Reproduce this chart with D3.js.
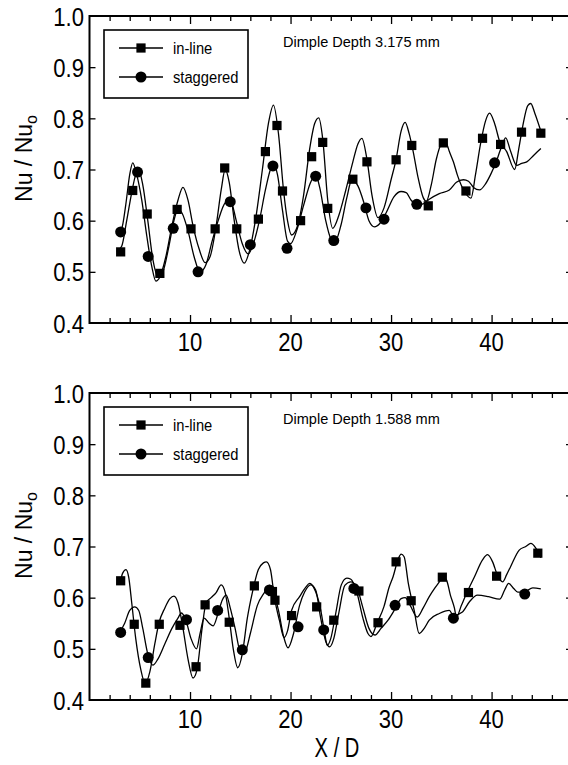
<!DOCTYPE html>
<html>
<head>
<meta charset="utf-8">
<script src="https://cdn.jsdelivr.net/npm/d3@7/dist/d3.min.js"></script>
<style>
  body { margin: 0; background: #fff; }
  svg { display: block; font-family: "Liberation Sans", Arial, sans-serif; }
  .axis path { display: none; }
  .axis line { stroke: #000; stroke-width: 1.3; }
  .frame { fill: none; stroke: #000; stroke-width: 2; }
  .trace { fill: none; stroke: #000; stroke-width: 1.3; }
  .legend-box { fill: #fff; stroke: #000; stroke-width: 1.6; }
</style>
</head>
<body>
<script>
// tick values / labels
var xTicks = d3.range(2, 48, 2);
var xLabels = [10, 20, 30, 40];
var yTicks = [0.4, 0.5, 0.6, 0.7, 0.8, 0.9, 1.0];

// top panel (3.175 mm), traced [X/D, Nu/Nu0]
var topInlineLine = [[2.7,0.578],[3.2,0.585],[3.6,0.63],[4.0,0.69],[4.3,0.713],[4.7,0.69],[5.2,0.64],[5.7,0.57],[6.2,0.51],[6.6,0.482],[7.0,0.49],[7.6,0.53],[8.2,0.59],[8.8,0.64],[9.3,0.665],[9.8,0.64],[10.3,0.59],[10.9,0.545],[11.5,0.518],[12.0,0.53],[12.6,0.59],[13.1,0.66],[13.5,0.70],[13.9,0.675],[14.4,0.6],[14.9,0.54],[15.4,0.517],[15.9,0.54],[16.5,0.60],[17.2,0.70],[17.8,0.79],[18.3,0.826],[18.8,0.77],[19.3,0.66],[19.7,0.6],[20.1,0.572],[20.7,0.59],[21.3,0.65],[21.9,0.74],[22.4,0.79],[22.8,0.801],[23.2,0.76],[23.7,0.64],[24.2,0.585],[24.8,0.61],[25.5,0.66],[26.2,0.715],[26.7,0.75],[27.1,0.761],[27.6,0.72],[28.1,0.65],[28.7,0.606],[29.3,0.625],[30.0,0.68],[30.5,0.72],[31.0,0.775],[31.4,0.792],[31.8,0.77],[32.2,0.735],[32.7,0.683],[33.2,0.645],[33.5,0.638],[34.0,0.67],[34.5,0.72],[35.0,0.75],[35.4,0.755],[35.8,0.735],[36.2,0.715],[36.6,0.689],[37.3,0.657],[37.95,0.644],[38.4,0.69],[38.9,0.75],[39.4,0.795],[39.8,0.81],[40.3,0.79],[40.8,0.755],[41.5,0.735],[42.3,0.70],[42.7,0.74],[43.1,0.785],[43.6,0.825],[43.9,0.829],[44.3,0.81],[44.9,0.775]];
var topStaggeredLine = [[2.7,0.54],[3.2,0.55],[3.7,0.6],[4.2,0.655],[4.6,0.69],[4.9,0.698],[5.3,0.67],[5.8,0.60],[6.3,0.525],[6.85,0.49],[7.3,0.5],[7.9,0.55],[8.4,0.6],[8.8,0.622],[9.2,0.615],[9.8,0.58],[10.4,0.53],[11.0,0.50],[11.6,0.515],[12.2,0.56],[12.8,0.6],[13.5,0.635],[14.0,0.64],[14.6,0.6],[15.2,0.555],[15.8,0.535],[16.3,0.555],[16.9,0.6],[17.5,0.66],[18.0,0.70],[18.3,0.712],[18.7,0.69],[19.2,0.62],[19.7,0.56],[20.0,0.555],[20.6,0.58],[21.3,0.63],[22.0,0.675],[22.5,0.69],[22.9,0.665],[23.5,0.6],[24.0,0.565],[24.4,0.558],[25.0,0.59],[25.6,0.645],[26.1,0.68],[26.7,0.668],[27.3,0.635],[27.8,0.6],[28.35,0.588],[28.9,0.595],[29.5,0.615],[30.3,0.647],[31.0,0.657],[31.5,0.655],[32.0,0.64],[32.6,0.632],[33.2,0.633],[33.8,0.642],[34.8,0.653],[35.8,0.66],[36.5,0.675],[37.2,0.68],[37.7,0.677],[38.2,0.665],[38.8,0.66],[39.4,0.672],[39.9,0.69],[40.4,0.712],[41.0,0.745],[41.4,0.762],[41.9,0.735],[42.5,0.708],[43.0,0.712],[43.5,0.715],[44.2,0.728],[44.9,0.741]];
var topInlineMarks = [[3.1,0.539],[4.3,0.659],[5.74,0.613],[7.0,0.497],[8.72,0.622],[10.1,0.584],[12.5,0.584],[13.45,0.703],[14.65,0.584],[16.8,0.603],[17.5,0.735],[18.65,0.786],[19.2,0.658],[21.0,0.600],[22.1,0.725],[23.2,0.753],[23.7,0.624],[26.2,0.681],[27.6,0.715],[30.5,0.719],[32.06,0.747],[33.7,0.629],[35.2,0.752],[37.45,0.658],[39.1,0.761],[40.9,0.749],[42.98,0.773],[44.9,0.771]];
var topStaggeredMarks = [[3.1,0.578],[4.78,0.695],[5.84,0.530],[8.33,0.585],[10.8,0.500],[14.0,0.637],[16.0,0.553],[18.25,0.707],[19.65,0.546],[22.5,0.687],[24.3,0.561],[27.5,0.625],[29.3,0.603],[32.56,0.632],[40.3,0.713]];

// bottom panel (1.588 mm)
var botInlineLine = [[3.0,0.625],[3.3,0.648],[3.63,0.655],[3.9,0.64],[4.2,0.59],[4.6,0.52],[5.1,0.46],[5.55,0.432],[6.0,0.455],[6.5,0.51],[6.9,0.55],[7.5,0.58],[8.0,0.598],[8.4,0.603],[8.8,0.59],[9.3,0.54],[9.8,0.48],[10.3,0.443],[10.7,0.46],[11.2,0.54],[11.6,0.59],[12.1,0.6],[12.6,0.61],[13.1,0.625],[13.5,0.61],[13.9,0.56],[14.3,0.5],[14.75,0.463],[15.2,0.49],[15.7,0.56],[16.2,0.61],[16.8,0.655],[17.3,0.668],[17.6,0.67],[18.0,0.655],[18.4,0.60],[18.9,0.555],[19.35,0.522],[19.7,0.535],[20.1,0.575],[20.9,0.602],[21.5,0.62],[21.9,0.628],[22.3,0.62],[23.0,0.576],[23.4,0.53],[23.65,0.507],[24.0,0.52],[24.5,0.57],[25.05,0.625],[25.6,0.638],[26.0,0.636],[26.6,0.61],[27.2,0.56],[27.7,0.53],[28.0,0.524],[28.6,0.55],[29.3,0.583],[29.8,0.62],[30.2,0.641],[30.7,0.675],[31.0,0.685],[31.3,0.68],[31.7,0.63],[32.3,0.575],[32.8,0.53],[33.3,0.54],[33.8,0.556],[34.8,0.569],[35.8,0.575],[36.2,0.565],[37.1,0.572],[37.8,0.592],[38.6,0.605],[39.7,0.602],[40.8,0.597],[41.3,0.615],[41.7,0.628],[42.2,0.618],[42.6,0.611],[43.3,0.612],[44.1,0.619],[44.9,0.617]];
var botStaggeredLine = [[3.0,0.532],[3.5,0.55],[4.0,0.575],[4.5,0.582],[4.9,0.575],[5.3,0.54],[5.8,0.49],[6.3,0.468],[6.8,0.48],[7.5,0.51],[8.2,0.54],[8.8,0.56],[9.15,0.57],[9.6,0.555],[10.1,0.52],[10.65,0.50],[11.0,0.53],[11.4,0.56],[11.9,0.55],[12.3,0.545],[12.8,0.57],[13.2,0.595],[13.6,0.605],[14.0,0.58],[14.45,0.543],[15.1,0.49],[15.5,0.495],[16.0,0.53],[16.7,0.585],[17.4,0.61],[17.9,0.624],[18.3,0.61],[18.8,0.575],[19.3,0.525],[19.75,0.502],[20.3,0.53],[20.9,0.585],[21.4,0.611],[22.0,0.625],[22.5,0.615],[23.0,0.56],[23.5,0.515],[23.9,0.504],[24.3,0.52],[24.8,0.57],[25.4,0.624],[26.0,0.631],[26.6,0.62],[27.2,0.58],[27.8,0.54],[28.4,0.527],[29.0,0.54],[29.7,0.556],[30.4,0.578],[31.0,0.598],[31.4,0.6],[31.9,0.585],[32.6,0.562],[33.2,0.58],[33.8,0.602],[34.4,0.62],[34.8,0.631],[35.1,0.64],[35.5,0.635],[35.9,0.605],[36.3,0.58],[36.5,0.562],[37.0,0.585],[37.5,0.608],[38.3,0.641],[39.1,0.674],[39.6,0.684],[40.1,0.670],[40.6,0.643],[41.1,0.631],[41.5,0.645],[41.9,0.661],[42.75,0.693],[43.4,0.70],[43.9,0.706],[44.4,0.697],[44.9,0.678]];
var botInlineMarks = [[3.1,0.633],[4.45,0.548],[5.6,0.433],[6.94,0.548],[9.0,0.546],[10.6,0.465],[11.5,0.586],[13.9,0.552],[16.4,0.623],[18.2,0.612],[18.45,0.595],[20.1,0.565],[22.6,0.582],[24.3,0.556],[26.8,0.613],[28.7,0.551],[30.5,0.670],[32.0,0.594],[35.1,0.640],[37.7,0.610],[40.5,0.642],[44.6,0.687]];
var botStaggeredMarks = [[3.1,0.532],[5.84,0.483],[9.65,0.557],[12.75,0.575],[15.2,0.498],[17.9,0.615],[20.75,0.543],[23.3,0.537],[26.3,0.618],[30.4,0.585],[36.2,0.560],[43.3,0.607]];

var panels = [
  {top: 16, bottom: 323, note: "Dimple Depth 3.175 mm",
   lines: [topInlineLine, topStaggeredLine], squares: topInlineMarks, circles: topStaggeredMarks},
  {top: 393, bottom: 700, note: "Dimple Depth 1.588 mm",
   lines: [botInlineLine, botStaggeredLine], squares: botInlineMarks, circles: botStaggeredMarks}
];

var W = 568, H = 765;
var x = d3.scaleLinear().domain([0, 48]).range([89.5, 572]);

var svg = d3.select("body").append("svg")
  .attr("width", W)
  .attr("height", H);

// condensed text, like the scanned figure
function label(g, px, py, str, size, sx, anchor) {
  return g.append("text")
    .attr("transform", "translate(" + px + "," + py + ") scale(" + sx + ",1)")
    .attr("text-anchor", anchor)
    .style("font-size", size + "px")
    .text(str);
}

var square = d3.symbol().type(d3.symbolSquare).size(85);
var circle = d3.symbol().type(d3.symbolCircle).size(95);

panels.forEach(function (p) {
  var y = d3.scaleLinear().domain([0.4, 1.0]).range([p.bottom, p.top]);
  var g = svg.append("g");

  // ticks, all pointing inward
  g.append("g").attr("class", "axis")
    .attr("transform", "translate(0," + p.bottom + ")")
    .call(d3.axisBottom(x).tickValues(xTicks.filter(function (d) { return d % 10; }))
      .tickSize(-5).tickFormat(""));
  g.append("g").attr("class", "axis")
    .attr("transform", "translate(0," + p.bottom + ")")
    .call(d3.axisBottom(x).tickValues(xLabels).tickSize(-8).tickFormat(""));
  g.append("g").attr("class", "axis")
    .attr("transform", "translate(0," + p.top + ")")
    .call(d3.axisTop(x).tickValues(xTicks.filter(function (d) { return d % 10; }))
      .tickSize(-5).tickFormat(""));
  g.append("g").attr("class", "axis")
    .attr("transform", "translate(0," + p.top + ")")
    .call(d3.axisTop(x).tickValues(xLabels).tickSize(-8).tickFormat(""));
  g.append("g").attr("class", "axis")
    .attr("transform", "translate(" + x.range()[0] + ",0)")
    .call(d3.axisLeft(y).tickValues(yTicks.slice(1, -1)).tickSize(-6).tickFormat(""));
  g.append("g").attr("class", "axis")
    .attr("transform", "translate(" + x.range()[1] + ",0)")
    .call(d3.axisRight(y).tickValues(yTicks.slice(1, -1)).tickSize(-6).tickFormat(""));

  g.append("rect").attr("class", "frame")
    .attr("x", x.range()[0]).attr("y", p.top)
    .attr("width", x.range()[1] - x.range()[0])
    .attr("height", p.bottom - p.top);

  yTicks.forEach(function (v) {
    label(g, 84, y(v) + 9.5, v.toFixed(1), 26, 0.85, "end");
  });
  xLabels.forEach(function (v) {
    label(g, x(v), p.bottom + 28, v, 26, 0.85, "middle");
  });

  // axis title Nu / Nu_o
  var t = g.append("text")
    .attr("transform", "translate(32," + ((p.top + p.bottom) / 2 - 11) + ") rotate(-90)")
    .attr("text-anchor", "middle")
    .style("font-size", "23px");
  t.append("tspan").text("Nu / Nu");
  t.append("tspan").attr("dy", 5).style("font-size", "16px").text("o");

  // traces
  var line = d3.line()
    .x(function (d) { return x(d[0]); })
    .y(function (d) { return y(d[1]); })
    .curve(d3.curveMonotoneX);
  p.lines.forEach(function (l) {
    g.append("path").attr("class", "trace").attr("d", line(l));
  });

  g.selectAll(".sq").data(p.squares).enter().append("path")
    .attr("transform", function (d) { return "translate(" + x(d[0]) + "," + y(d[1]) + ")"; })
    .attr("d", square).attr("fill", "#000");
  g.selectAll(".ci").data(p.circles).enter().append("path")
    .attr("transform", function (d) { return "translate(" + x(d[0]) + "," + y(d[1]) + ")"; })
    .attr("d", circle).attr("fill", "#000");

  // legend
  var lg = g.append("g").attr("transform", "translate(104," + (p.top + 14) + ")");
  lg.append("rect").attr("class", "legend-box")
    .attr("width", 144).attr("height", 68);
  [["in-line", square, 18], ["staggered", circle, 47]].forEach(function (e) {
    lg.append("line").attr("x1", 15).attr("x2", 59).attr("y1", e[2]).attr("y2", e[2])
      .attr("stroke", "#000").attr("stroke-width", 1.5);
    lg.append("path").attr("transform", "translate(37," + e[2] + ")")
      .attr("d", e[1]).attr("fill", "#000");
    label(lg, 69, e[2] + 6, e[0], 16, 0.92, "start");
  });

  label(g, 283, p.top + 31, p.note, 15, 0.97, "start");
});

label(svg, 337, 757, "X / D", 28, 0.72, "middle");
</script>
</body>
</html>
